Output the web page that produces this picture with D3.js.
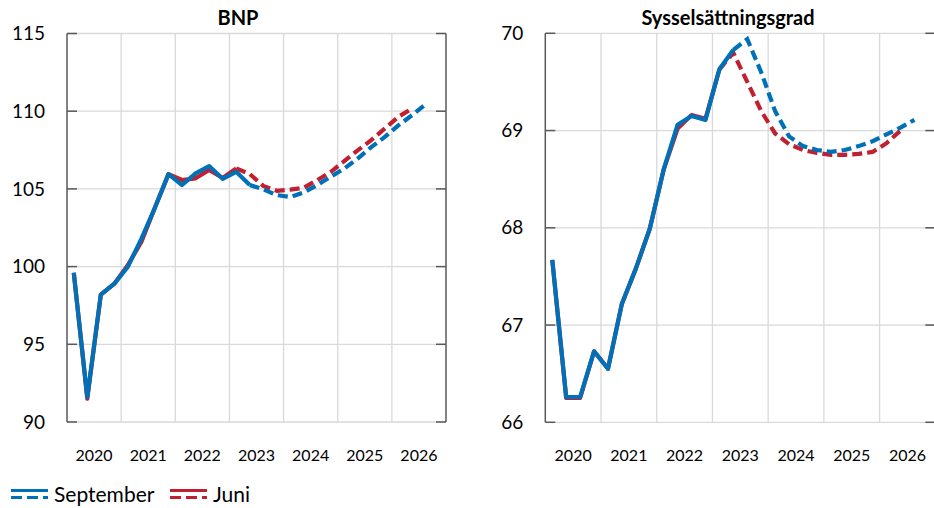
<!DOCTYPE html>
<html>
<head>
<meta charset="utf-8">
<script src="https://cdn.jsdelivr.net/npm/d3@7"></script>
<style>
  body { margin: 0; background: #fff; }
  svg { display: block; font-family: Lato, "Open Sans", sans-serif; }
</style>
</head>
<body>
<svg id="svg" width="934" height="508"></svg>
<script>
// quarterly values, first point = 2020 Q1
var years = [2020, 2021, 2022, 2023, 2024, 2025, 2026];

var bnpSeptember = [99.6, 91.6, 98.2, 98.9, 100.0, 101.8, 103.8, 105.95, 105.25, 106.0,
    106.47, 105.65, 106.1, 105.25, 104.97, 104.6, 104.48, 104.78, 105.25, 105.79,
    106.32, 106.97, 107.7, 108.36, 109.1, 109.75, 110.46];
var bnpJuni = [99.6, 91.5, 98.2, 98.9, 100.1, 101.6, 103.8, 105.95, 105.57, 105.68,
    106.22, 105.7, 106.32, 105.96, 105.19, 104.88, 104.95, 105.08, 105.57, 106.1,
    106.8, 107.5, 108.15, 108.9, 109.65, 110.18];

var sysSeptember = [67.67, 66.26, 66.26, 66.73, 66.55, 67.22, 67.58, 67.99, 68.6, 69.06,
    69.15, 69.11, 69.63, 69.83, 69.94, 69.6, 69.2, 68.94, 68.84, 68.8,
    68.78, 68.8, 68.84, 68.89, 68.96, 69.03, 69.11];
var sysJuni = [67.67, 66.25, 66.25, 66.73, 66.55, 67.22, 67.58, 67.99, 68.6, 69.02,
    69.16, 69.12, 69.63, 69.8, 69.5, 69.2, 68.97, 68.86, 68.8, 68.77,
    68.75, 68.75, 68.76, 68.78, 68.87, 69.0];

// last outcome quarter (index), forecast is dashed after this
var lastOutcomeSeptember = 13;
var lastOutcomeJuni = 12;

var bnpTicks = [90, 95, 100, 105, 110, 115];
var sysTicks = [66, 67, 68, 69, 70];

var blue = "#0070b8";
var red = "#c0202f";

//////////////////////////////////////////////////////////////////////////////

var svg = d3.select("#svg");

function drawPanel(p)
{
    var x = d3.scaleLinear().domain([2020, 2027]).range([p.x1, p.x2]);
    var y = d3.scaleLinear().domain([p.ticks[0], p.ticks[p.ticks.length - 1]]).range([p.y1, p.y2]);
    var g = svg.append("g");

    // grid
    g.selectAll(".hgrid").data(p.ticks).enter().append("line")
        .attr("x1", p.x1).attr("x2", p.x2)
        .attr("y1", function(d) { return y(d); }).attr("y2", function(d) { return y(d); })
        .attr("stroke", "#d9d9d9").attr("stroke-width", 1.3);
    g.selectAll(".vgrid").data(years.slice(1)).enter().append("line")
        .attr("x1", function(d) { return x(d); }).attr("x2", function(d) { return x(d); })
        .attr("y1", p.y1).attr("y2", p.y2)
        .attr("stroke", "#d9d9d9").attr("stroke-width", 1.3);

    // axes
    g.append("line").attr("x1", p.x1).attr("x2", p.x1).attr("y1", p.y1).attr("y2", p.y2)
        .attr("stroke", "#595959").attr("stroke-width", 1.5);
    g.append("line").attr("x1", p.x2).attr("x2", p.x2).attr("y1", p.y1).attr("y2", p.y2)
        .attr("stroke", "#595959").attr("stroke-width", 1.5);
    g.selectAll(".tl").data(p.ticks).enter().append("line")
        .attr("x1", p.x1).attr("x2", p.x1 + 10)
        .attr("y1", function(d) { return y(d); }).attr("y2", function(d) { return y(d); })
        .attr("stroke", "#595959").attr("stroke-width", 1.5);
    g.selectAll(".tr").data(p.ticks).enter().append("line")
        .attr("x1", p.x2 - 10).attr("x2", p.x2)
        .attr("y1", function(d) { return y(d); }).attr("y2", function(d) { return y(d); })
        .attr("stroke", "#595959").attr("stroke-width", 1.5);

    g.selectAll(".yl").data(p.ticks).enter().append("text")
        .attr("x", p.x1 - 22).attr("y", function(d) { return y(d); })
        .attr("dy", "0.35em").attr("text-anchor", "end")
        .attr("font-size", 19).attr("fill", "#000")
        .text(function(d) { return d; });
    g.selectAll(".xl").data(years).enter().append("text")
        .attr("x", function(d) { return x(d + 0.5); }).attr("y", 461)
        .attr("text-anchor", "middle").attr("font-size", 16).attr("fill", "#000")
        .text(function(d) { return d; });

    g.append("text").attr("x", p.titleX).attr("y", 25)
        .attr("text-anchor", "middle").attr("font-size", 20).attr("font-weight", "bold")
        .text(p.title);

    var line = d3.line()
        .x(function(d, i) { return x(2020 + (d.i + 0.5) / 4); })
        .y(function(d) { return y(d.v); });

    function drawSeries(values, lastOutcome, color)
    {
        var pts = values.map(function(v, i) { return {i: i, v: v}; });
        g.append("path").datum(pts.slice(0, lastOutcome + 1)).attr("d", line)
            .attr("fill", "none").attr("stroke", color).attr("stroke-width", 4.2)
            .attr("stroke-linejoin", "round");
        g.append("path").datum(pts.slice(lastOutcome)).attr("d", line)
            .attr("fill", "none").attr("stroke", color).attr("stroke-width", 4.2)
            .attr("stroke-dasharray", "10,5");
    }
    drawSeries(p.juni, lastOutcomeJuni, red);
    drawSeries(p.september, lastOutcomeSeptember, blue);
}

drawPanel({x1: 67, x2: 446, y1: 422, y2: 33.5, ticks: bnpTicks,
    title: "BNP", titleX: 238, september: bnpSeptember, juni: bnpJuni});
drawPanel({x1: 545.3, x2: 935.3, y1: 422.3, y2: 33.3, ticks: sysTicks,
    title: "Sysselsättningsgrad", titleX: 728, september: sysSeptember, juni: sysJuni});

// legend
var legend = [{name: "September", color: blue, x: 11}, {name: "Juni", color: red, x: 170}];
var lg = svg.selectAll(".leg").data(legend).enter().append("g");
lg.append("line").attr("x1", function(d) { return d.x; }).attr("x2", function(d) { return d.x + 37; })
    .attr("y1", 490.5).attr("y2", 490.5).attr("stroke", function(d) { return d.color; }).attr("stroke-width", 3);
lg.append("line").attr("x1", function(d) { return d.x; }).attr("x2", function(d) { return d.x + 37; })
    .attr("y1", 497.5).attr("y2", 497.5).attr("stroke", function(d) { return d.color; }).attr("stroke-width", 3)
    .attr("stroke-dasharray", "11,5");
lg.append("text").attr("x", function(d) { return d.x + 43; }).attr("y", 502)
    .attr("font-size", 21).text(function(d) { return d.name; });
</script>
</body>
</html>
